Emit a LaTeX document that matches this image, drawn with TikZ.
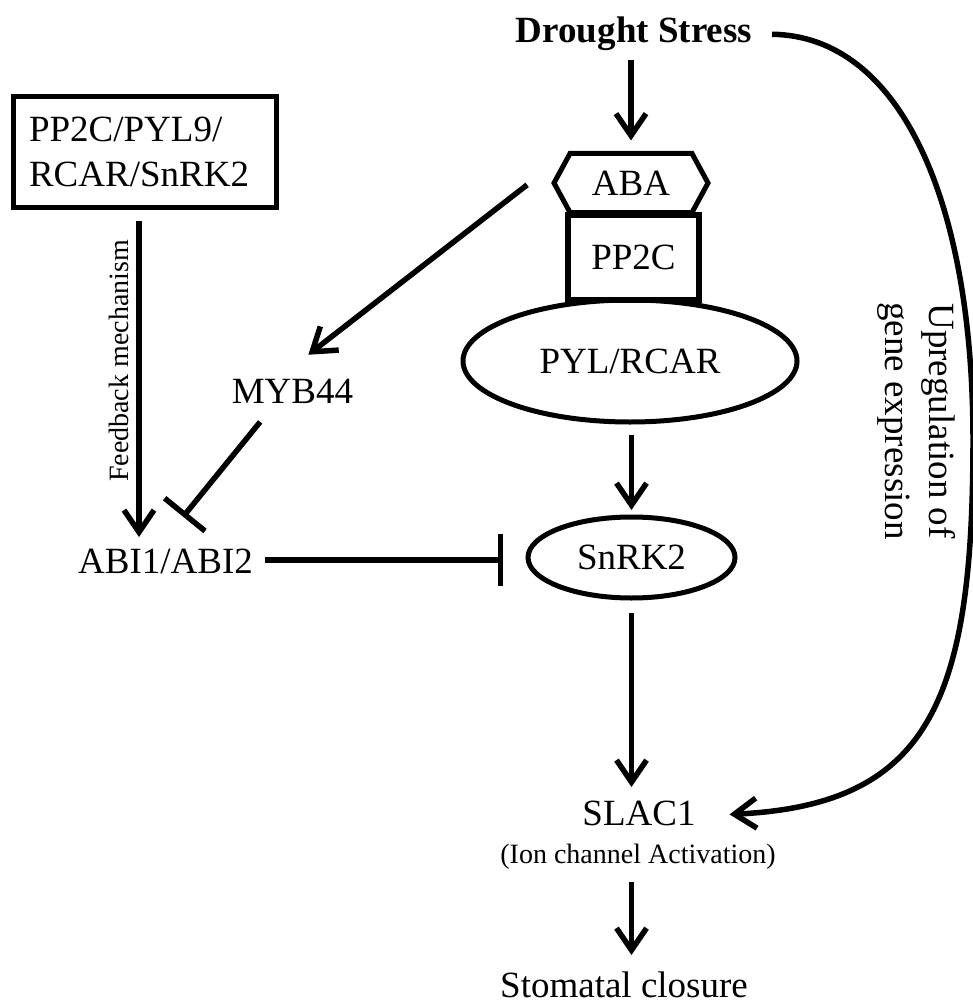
\documentclass[tikz,border=0pt]{standalone}
\usepackage{fontspec}
\setmainfont{Liberation Serif}
\usetikzlibrary{arrows.meta,shapes.geometric}
\begin{document}
\begin{tikzpicture}[x=1pt,y=-1pt,
  every node/.style={inner sep=0pt, outer sep=0pt},
  lbl/.style={font=\fontsize{37}{44}\selectfont, text height=26pt, text depth=8pt, anchor=base},
  small/.style={font=\fontsize{28}{33}\selectfont, text height=19.6pt, text depth=7pt, anchor=base},
  arr/.style={line width=5.5pt, -{Straight Barb[length=22pt,width=30pt]}},
  inh/.style={line width=5.5pt, -{Bar[width=52pt]}},
  shapebox/.style={draw, line width=5pt, font=\fontsize{37}{44}\selectfont}]
\useasboundingbox (0,0) rectangle (973,1003);

% nodes
\node[lbl, font=\fontsize{37}{44}\selectfont\bfseries] (ds) at (634,43) {Drought Stress};
\node[minimum width=154pt, minimum height=59pt, font=\fontsize{37}{44}\selectfont] (aba) at (631,183) {ABA};
\draw[line width=5pt, line join=miter] ([xshift=16pt]aba.north west) -- ([xshift=-16pt]aba.north east) -- (aba.east) -- ([xshift=-16pt]aba.south east) -- ([xshift=16pt]aba.south west) -- (aba.west) -- cycle;
\node[shapebox, rectangle, minimum width=131pt, minimum height=85pt, line width=5.5pt] (pp2c) at (633.5,257.5) {PP2C};
\node[shapebox, ellipse, minimum width=334pt, minimum height=122pt] (pyl) at (630,361) {PYL/RCAR};
\node[shapebox, ellipse, minimum width=207pt, minimum height=81pt] (snrk) at (631.5,557.5) {SnRK2};
\node[lbl] (myb) at (292.5,403) {MYB44};
\node[lbl] (abi) at (165.5,573) {ABI1/ABI2};
\node[lbl] (slac) at (639,825) {SLAC1};
\node[small] (ion) at (638,863) {(Ion channel Activation)};
\node[lbl] (stom) at (624,997) {Stomatal closure};
\node[draw, line width=5pt, minimum width=263pt, minimum height=110pt, text width=231pt, align=left, font=\fontsize{37}{45}\selectfont] (box) at (144.5,152) {PP2C/PYL9/\\RCAR/SnRK2};
\node[font=\fontsize{28}{33}\selectfont, rotate=90, anchor=base] (fb) at (128,361) {Feedback mechanism};
\node[font=\fontsize{37}{44}\selectfont, rotate=-90, align=center] (up) at (917,421) {Upregulation of\\gene expression};

% connectors
\draw[arr, shorten <=9pt, shorten >=13pt] (ds.south -| aba.north) -- (aba.north);
\draw[arr, shorten <=34pt, shorten >=20pt] ([yshift=19pt]aba.west) -- ([yshift=10pt]myb.north);
\draw[arr, shorten <=13pt, shorten >=7pt] (pyl.south -| snrk.north) -- (snrk.north);
\draw[arr, shorten <=15pt, shorten >=12pt] (snrk.south) -- (snrk.south |- slac.north);
\draw[arr, shorten <=12pt, shorten >=16pt] (ion.south -| snrk.south) -- (snrk.south |- stom.north);
\draw[arr, shorten <=14pt, shorten >=10pt] ([xshift=-5.5pt]box.south) -- ([xshift=-5.5pt]box.south |- abi.north);
\draw[inh, shorten <=14pt, shorten >=39pt] ([xshift=-23.5pt]myb.south) -- ([xshift=-7pt]abi.north);
\draw[inh, shorten <=12pt, shorten >=25pt] ([yshift=4pt]abi.east) -- ([yshift=4pt]abi.east -| snrk.west);
\draw[arr, shorten <=20pt, shorten >=34pt] (ds.east) .. controls (900,36) and (973,200) .. (973,440) .. controls (973,700) and (930,805) .. (slac.east);
\end{tikzpicture}
\end{document}
